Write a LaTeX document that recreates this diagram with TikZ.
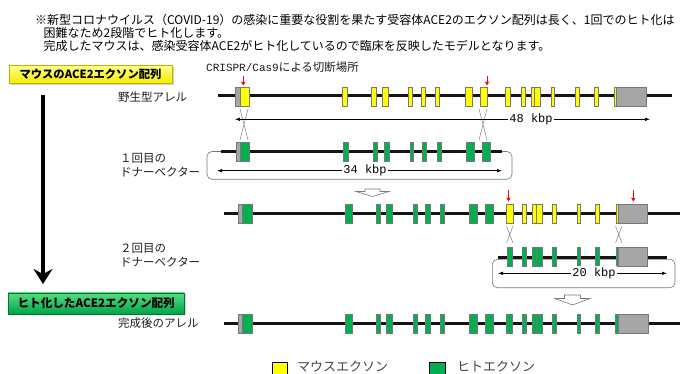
\documentclass[tikz,border=0pt]{standalone}
\usepackage{fontspec}
\newfontfamily\jp{Noto Sans CJK JP}
\newfontfamily\lmono{Liberation Mono}
\usetikzlibrary{arrows.meta,shadows}
\definecolor{exY}{RGB}{255,255,0}
\definecolor{exG}{RGB}{0,176,80}
\definecolor{exS}{RGB}{166,166,166}
\definecolor{exB}{RGB}{120,120,120}
\definecolor{bb}{RGB}{25,20,20}
\definecolor{txt}{RGB}{30,30,30}
\definecolor{legtxt}{RGB}{70,70,70}
\tikzset{
  exon/.style={draw=exB, line width=0.45pt},
  backbone/.style={line width=3pt, draw=bb},
  xcross/.style={draw=gray, line width=0.5pt},
  dimline/.style={line width=0.6pt, {Latex[length=5pt,width=3.5pt]}-{Latex[length=5pt,width=3.5pt]}},
  dimlabel/.style={fill=white, inner sep=1.5pt, font=\lmono\fontsize{12}{12}\selectfont},
  cutarrow/.style={draw=red, line width=0.8pt, -{Triangle[length=3.5pt,width=4pt]}},
  vecbox/.style={draw=exB, rounded corners=5pt, line width=0.6pt},
  hollow/.style={draw=exB, fill=white, line width=0.6pt},
  lbl/.style={font=\jp\fontsize{11.5}{14}\selectfont, inner sep=0pt, anchor=west, text=txt},
  para/.style={font=\jp\fontsize{12}{14}\selectfont, inner sep=0pt, anchor=west, text=black},
  titleY/.style={draw={rgb,255:red,190;green,180;blue,0}, line width=0.5pt,
    top color={rgb,255:red,255;green,255;blue,140}, bottom color={rgb,255:red,245;green,235;blue,0},
    minimum width=163pt, minimum height=18pt, inner sep=0pt,
    font=\jp\bfseries\fontsize{11.3}{13}\selectfont,
    drop shadow={opacity=0.35, shadow xshift=1.5pt, shadow yshift=-1.5pt}},
  titleG/.style={draw={rgb,255:red,0;green,120;blue,50}, line width=0.5pt,
    top color={rgb,255:red,90;green,220;blue,130}, bottom color={rgb,255:red,0;green,165;blue,75},
    minimum width=176pt, minimum height=21pt, inner sep=0pt,
    font=\jp\bfseries\fontsize{11.6}{13}\selectfont,
    drop shadow={opacity=0.35, shadow xshift=1.5pt, shadow yshift=-1.5pt}},
  legtext/.style={font=\jp\fontsize{13}{15}\selectfont, inner sep=0pt, anchor=west, text=legtxt},
}
\begin{document}
\begin{tikzpicture}[x=1pt,y=-1pt]
\useasboundingbox (0,0) rectangle (680,374);
\fill[white] (0,0) rectangle (680,374);

% --- top paragraph ---
\node[para] (p1) at (35,19.5) {※新型コロナウイルス（COVID-19）の感染に重要な役割を果たす受容体ACE2のエクソン配列は長く、1回でのヒト化は};
\node[para] (p2) at (43.5,32.6) {困難なため2段階でヒト化します。};
\node[para] (p3) at (43.5,45.6) {完成したマウスは、感染受容体ACE2がヒト化しているので臨床を反映したモデルとなります。};

% --- left title boxes and big arrow ---
\node[titleY] (tY) at (90.5,74.2) {マウスのACE2エクソン配列};
\node[titleG] (tG) at (96.2,303.3) {ヒト化したACE2エクソン配列};
\coordinate (aTop) at (43,95);
\coordinate (aBot) at (43,284);
\draw[line width=4pt, -{Stealth[length=15pt,width=19pt,inset=5pt]}] (aTop) -- (aBot);

% --- row labels ---
\node[lbl] (crispr) at (206,67) {{\lmono\fontsize{11}{11}\selectfont CRISPR/Cas9}による切断場所};
\node[lbl] (wt) at (118,97) {野生型アレル};
\node[lbl] (d1a) at (120,158) {１回目の};
\node[lbl] (d1b) at (120,172) {ドナーベクター};
\node[lbl] (d2a) at (120,248) {２回目の};
\node[lbl] (d2b) at (120,262) {ドナーベクター};
\node[lbl] (fin) at (118,323.5) {完成後のアレル};

% --- Row 1: wild type allele ---
\draw[backbone] (218,96) -- (672,96);
\foreach \a/\b/\c in {235.7/240/exS, 240/249/exY, 342.3/347.3/exY, 371.7/376.3/exY, 382.7/388/exY,
  408.7/412.3/exY, 421.3/425.3/exY, 435.7/439.7/exY, 465.3/472.7/exY, 480.3/487.7/exY,
  505.3/510.3/exY, 521/525/exY, 531/534.3/exY, 534.3/540.3/exY, 551/554.3/exY,
  575.7/579.3/exY, 594.3/597.8/exY, 614.3/616.7/exY, 616.7/646/exS}
  \filldraw[exon, fill=\c] (\a,87) rectangle (\b,106);
\draw[cutarrow] (243.3,76.5) -- (243.3,85.5);
\draw[cutarrow] (487,76.5) -- (487,85.5);

% crosses row1-row2
\draw[xcross] (240,109) -- (248,140) (248,109) -- (240,140);
\draw[xcross] (479,109) -- (487,140) (487,109) -- (479,140);

% 48 kbp
\coordinate (d48a) at (235,119.3);
\coordinate (d48b) at (650,119.3);
\draw[dimline] (d48a) -- (d48b);
\node[dimlabel] (l48) at (531,119.3) {48 kbp};

% --- Row 2: first donor vector ---
\draw[vecbox] (207,151.5) rectangle (512,179.3);
\draw[backbone] (221,151.5) -- (502,151.5);
\foreach \a/\b/\c in {236.7/240/exS, 240/249.3/exG, 343.3/348.7/exG, 373/377.7/exG, 384.3/389.7/exG,
  410/413.7/exG, 422.7/426.7/exG, 437.3/441/exG, 466.7/474.3/exG, 482.7/490/exG}
  \filldraw[exon, fill=\c] (\a,142) rectangle (\b,161);
\coordinate (d34a) at (217,170.7);
\coordinate (d34b) at (502,170.7);
\draw[dimline] (d34a) -- (d34b);
\node[dimlabel] (l34) at (365,170.7) {34 kbp};

% hollow arrow 1
\filldraw[hollow] (365,189) -- (380,189) -- (380,191.5) -- (389,191.5) -- (372.5,196.5) -- (356,191.5) -- (365,191.5) -- cycle;

% --- Row 3: intermediate allele ---
\draw[backbone] (224,213.5) -- (680,213.5);
\foreach \a/\b/\c in {238.3/242.3/exS, 242.3/252.3/exG, 345.7/352.3/exG, 376/380/exG, 386/392.3/exG,
  413.3/417/exG, 425.7/430/exG, 440/444/exG, 469.3/477.3/exG, 485.3/493.3/exG,
  506.7/513.3/exY, 522.3/526.3/exY, 532.3/536.7/exY, 536.7/542.3/exY, 552.3/556/exY,
  577/580.7/exY, 595.7/599.2/exY, 616/618.3/exY, 618.3/647.7/exS}
  \filldraw[exon, fill=\c] (\a,204) rectangle (\b,223);
\draw[cutarrow] (508.5,190.5) -- (508.5,201.5);
\draw[cutarrow] (633.3,190.5) -- (633.3,201.5);

% crosses row3-row4
\draw[xcross] (506.5,226) -- (513,243) (513,226) -- (506.5,243);
\draw[xcross] (615.5,226) -- (622,243) (622,226) -- (615.5,243);

% --- Row 4: second donor vector ---
\draw[vecbox] (492.3,259.3) rectangle (675,287.7);
\draw[backbone] (498,257) -- (667,257);
\foreach \a/\b/\c in {507/512.7/exG, 522.7/526.3/exG, 532.3/536.7/exG, 536.7/542.3/exG, 552.3/556/exG,
  577/580.7/exG, 595.7/599.2/exG, 616/618.3/exG, 618.3/647.7/exS}
  \filldraw[exon, fill=\c] (\a,247.5) rectangle (\b,266.5);
\coordinate (d20a) at (498,273.3);
\coordinate (d20b) at (667,273.3);
\draw[dimline] (d20a) -- (d20b);
\node[dimlabel] (l20) at (594,273.3) {20 kbp};

% hollow arrow 2
\filldraw[hollow] (564.5,295) -- (580.5,295) -- (580.5,298.5) -- (590,298.5) -- (572.5,305) -- (555,298.5) -- (564.5,298.5) -- cycle;

% --- Row 5: final allele ---
\draw[backbone] (224,323.5) -- (680,323.5);
\foreach \a/\b/\c in {238.3/242.3/exS, 242.3/252.3/exG, 345.7/352.3/exG, 376/380/exG, 386/392.3/exG,
  413.3/417/exG, 425.7/430/exG, 440/444/exG, 469.3/477.3/exG, 485.3/493.3/exG,
  506.7/512.7/exG, 522.7/526.3/exG, 532.3/536.7/exG, 536.7/542.3/exG, 552.7/556/exG,
  577.3/580.7/exG, 595.7/599.2/exG, 615.7/618.3/exG, 618.3/648.3/exS}
  \filldraw[exon, fill=\c] (\a,314) rectangle (\b,333);

% --- legend ---
\filldraw[draw=black, line width=0.6pt, fill=exY] (272,362) rectangle (287.5,378);
\node[legtext] (legY) at (297,366.5) {マウスエクソン};
\filldraw[draw=black, line width=0.6pt, fill=exG] (429.5,362) rectangle (445,378);
\node[legtext] (legG) at (457,366.5) {ヒトエクソン};
\end{tikzpicture}
\end{document}
